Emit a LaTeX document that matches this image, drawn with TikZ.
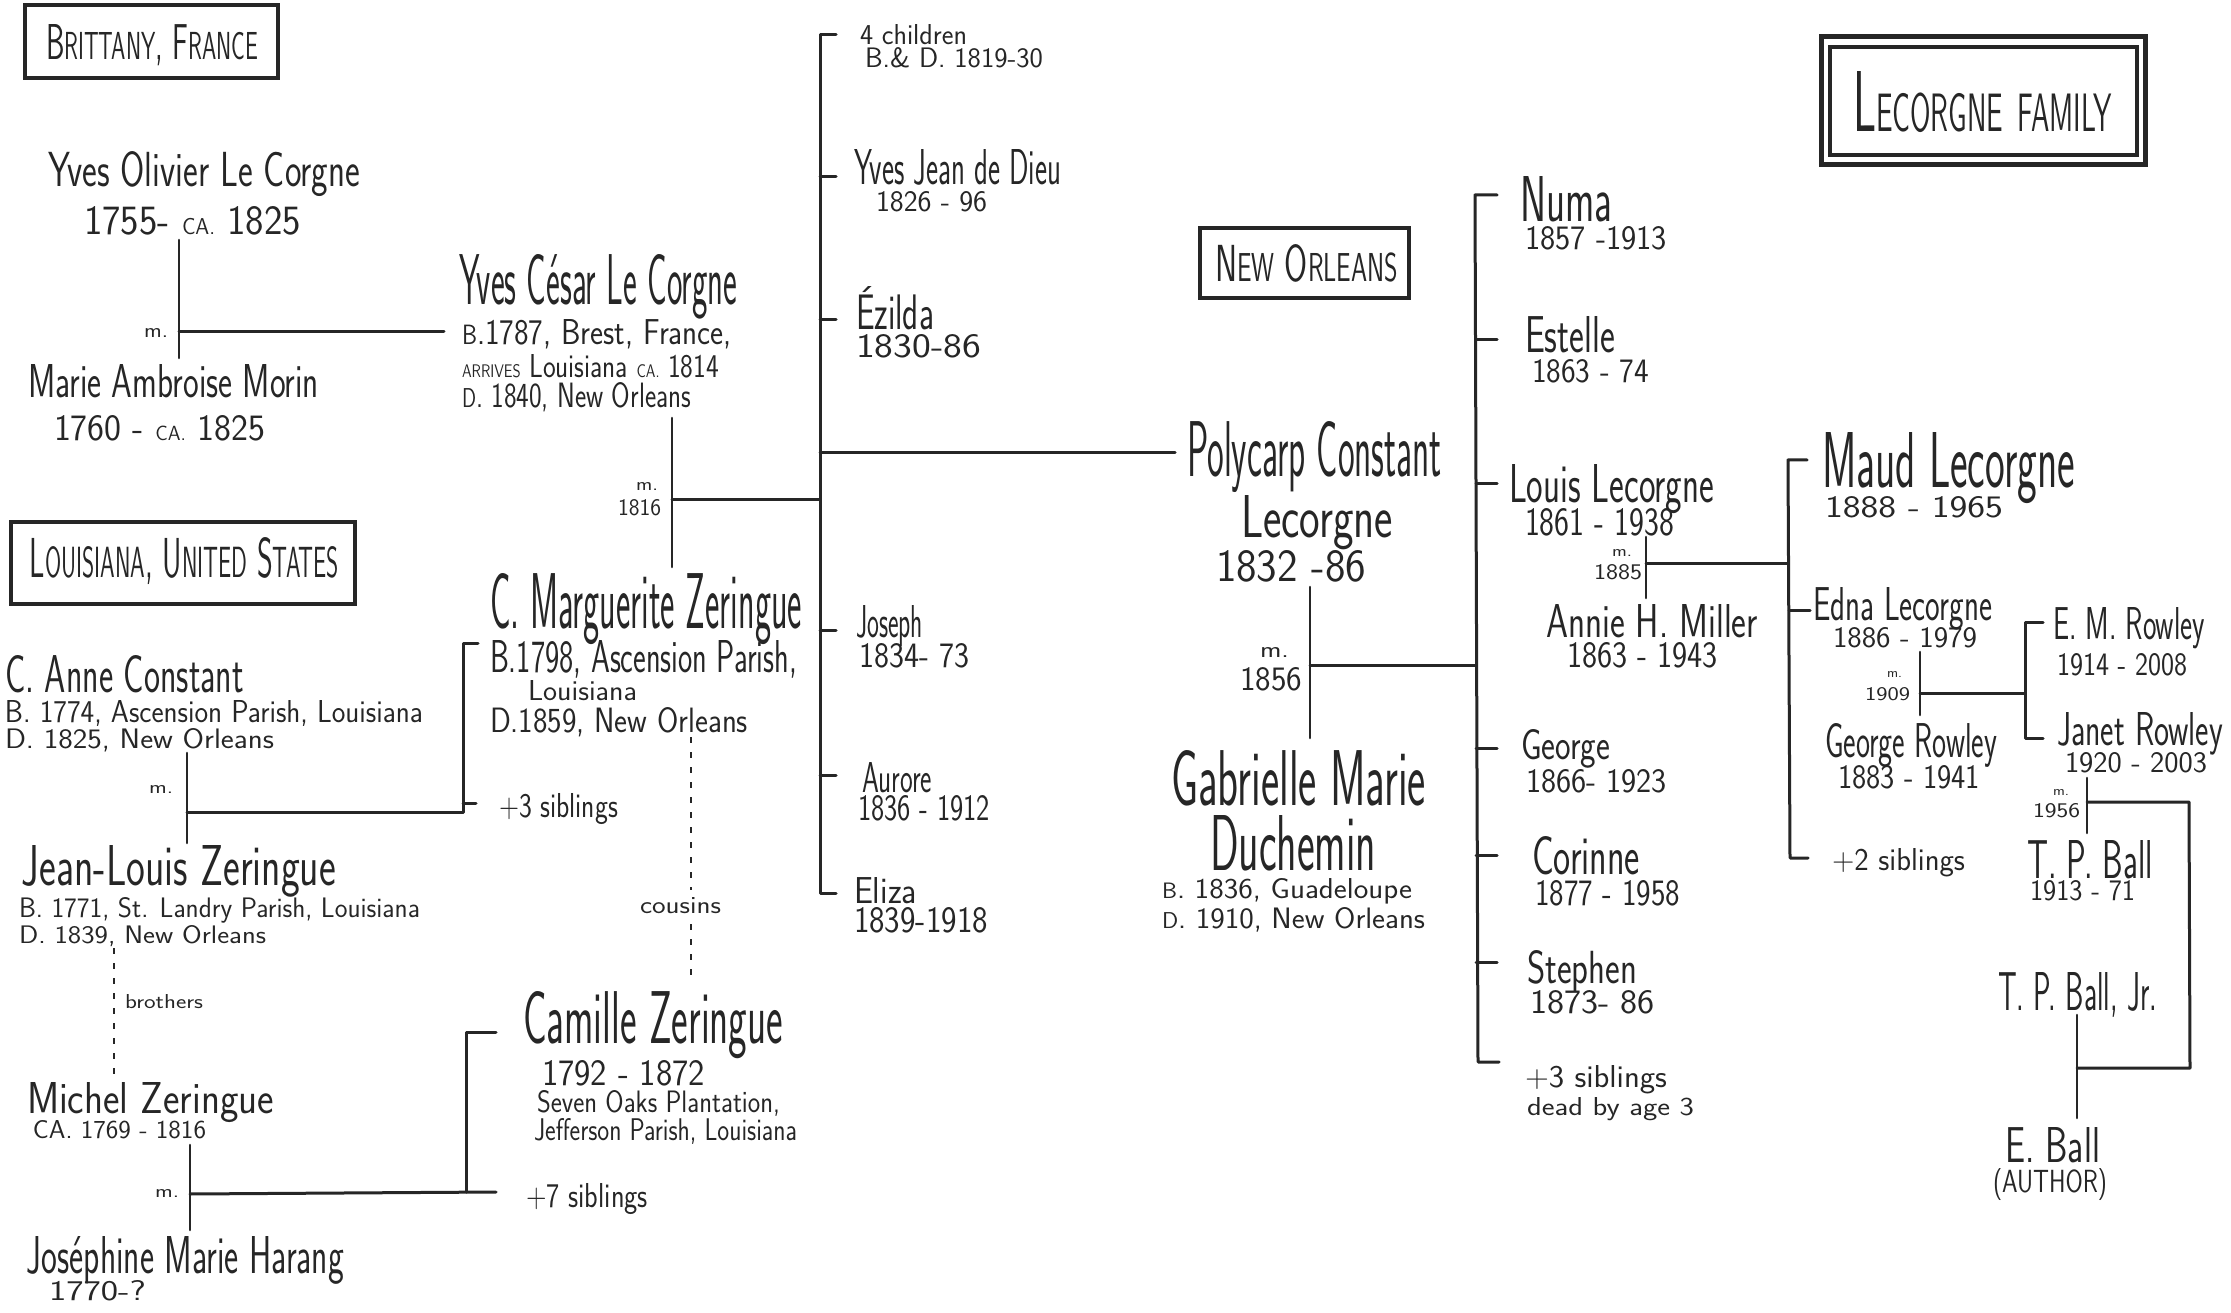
\documentclass[tikz,border=0pt]{standalone}
\usepackage{graphicx}
\definecolor{ink}{RGB}{38,38,38}
\tikzset{
  txt/.style={anchor=base west, inner sep=0pt, outer sep=0pt, text=ink, font=\sffamily},
  ln/.style={draw=ink, line width=3pt, line cap=round, line join=round},
  mln/.style={draw=ink, line width=2.6pt, line cap=round},
  dsh/.style={draw=ink, line width=2pt, dash pattern=on 6pt off 9pt},
  frame/.style={draw=ink, line width=3.5pt},
}
\newcommand\tx[5]{\node[txt] (#1) at (#2) {\resizebox{#3pt}{#4pt}{\fontsize{20}{24}\selectfont #5}};}
\newcommand\scA[1]{{\fontsize{15.5}{18}\selectfont #1}}
\newcommand\scB[1]{{\fontsize{11}{13}\selectfont #1}}
\newcommand\scC[1]{{\fontsize{12.5}{14}\selectfont #1}}
\begin{document}
\begin{tikzpicture}[x=1pt,y=-1pt]
\fill[white] (0,0) rectangle (2231,1313);
\useasboundingbox (0,0) rectangle (2231,1313);

% ---------- frames ----------
\draw[frame] (25,5) rectangle (278,78);
\draw[frame] (11,522) rectangle (355,604);
\draw[frame] (1200,228) rectangle (1409,298);
\draw[frame, line width=5pt] (1821,37) rectangle (2145,165);
\draw[frame] (1830,47) rectangle (2137,155);

\tx{brit}{46,60}{212}{35}{B\scA{RITTANY}, F\scA{RANCE}}
\tx{louis}{30,577}{309}{40}{L\scA{OUISIANA}, U\scA{NITED} S\scA{TATES}}
\tx{newo}{1215,282}{183}{37}{N\scA{EW} O\scA{RLEANS}}
\tx{title}{1853,132}{259}{60}{L\scC{ECORGNE} \scC{FAMILY}}

% ---------- Brittany ----------
\tx{yo}{48,187}{312}{35}{Yves Olivier Le Corgne}
\tx{yod}{84,235}{217}{28}{1755- \scB{CA.} 1825}
\tx{m1}{144,338}{24}{9}{m.}
\tx{mam}{28,398}{291}{33}{Marie Ambroise Morin}
\tx{mamd}{54,441}{211}{25}{1760 - \scB{CA.} 1825}

\tx{yc}{459,305}{278}{50}{Yves César Le Corgne}
\tx{yc1}{462,345}{270}{25}{\scA{B}.1787, Brest, France,}
\tx{yc2}{462,378}{257}{23}{\scB{ARRIVES} Louisiana \scB{CA.} 1814}
\tx{yc3}{462,408}{229}{25}{\scA{D}. 1840, New Orleans}
\tx{m2}{636,490}{22}{8}{m.}
\tx{m2d}{618,515}{43}{16}{1816}

% ---------- children of Yves Cesar ----------
\tx{ch4}{860,45}{107}{20}{4 children}
\tx{ch4d}{865,68}{178}{20}{B.\& D. 1819-30}
\tx{yjd}{854,185}{207}{35}{Yves Jean de Dieu}
\tx{yjdd}{876,212}{111}{20}{1826 - 96}
\tx{ez}{856,330}{78}{43}{Ézilda}
\tx{ezd}{856,358}{125}{23}{1830-86}
\tx{jo}{856,637}{67}{32}{Joseph}
\tx{jod}{859,667}{110}{24}{1834- 73}
\tx{au}{862,792}{70}{30}{Aurore}
\tx{aud}{858,820}{132}{25}{1836 - 1912}
\tx{el}{854,903}{63}{26}{Eliza}
\tx{eld}{854,932}{134}{25}{1839-1918}

% ---------- Polycarp ----------
\tx{pc}{1187,476}{255}{55}{Polycarp Constant}
\tx{pc2}{1241,537}{152}{42}{Lecorgne}
\tx{pcd}{1216,581}{150}{31}{1832 -86}
\tx{m3}{1260,657}{29}{10}{m.}
\tx{m3d}{1240,690}{62}{23}{1856}
\tx{gm}{1171,805}{255}{55}{Gabrielle Marie}
\tx{gm2}{1210,870}{166}{55}{Duchemin}
\tx{gm3}{1162,898}{250}{20}{\scA{B}. 1836, Guadeloupe}
\tx{gm4}{1162,928}{263}{21}{\scA{D}. 1910, New Orleans}

% ---------- children of Polycarp ----------
\tx{nu}{1520,222}{92}{45}{Numa}
\tx{nud}{1525,250}{142}{23}{1857 -1913}
\tx{es}{1525,353}{90}{36}{Estelle}
\tx{esd}{1532,383}{117}{23}{1863 - 74}
\tx{ll}{1509,503}{205}{38}{Louis Lecorgne}
\tx{lld}{1525,535}{149}{27}{1861 - 1938}
\tx{m4}{1612,556}{20}{7}{m.}
\tx{m4d}{1594,579}{48}{15}{1885}
\tx{am}{1546,637}{212}{33}{Annie H. Miller}
\tx{amd}{1567,667}{151}{25}{1863 - 1943}
\tx{ge}{1521,759}{89}{30}{George}
\tx{ged}{1526,792}{141}{23}{1866- 1923}
\tx{co}{1532,874}{108}{38}{Corinne}
\tx{cod}{1535,905}{145}{25}{1877 - 1958}
\tx{st}{1527,983}{110}{33}{Stephen}
\tx{std}{1530,1013}{125}{23}{1873- 86}
\tx{sb}{1525,1087}{142}{22}{+3 siblings}
\tx{sb2}{1527,1115}{167}{18}{dead by age 3}

% ---------- children of Louis ----------
\tx{ma}{1822,488}{253}{55}{Maud Lecorgne}
\tx{mad}{1825,518}{178}{21}{1888 - 1965}
\tx{ed}{1813,620}{179}{33}{Edna Lecorgne}
\tx{edd}{1833,647}{144}{20}{1886 - 1979}
\tx{m5}{1887,677}{15}{6}{m.}
\tx{m5d}{1865,700}{45}{13}{1909}
\tx{gr}{1825,757}{172}{34}{George Rowley}
\tx{grd}{1838,788}{142}{23}{1883 - 1941}
\tx{s2}{1832,870}{133}{22}{+2 siblings}
\tx{em}{2053,639}{152}{32}{E. M. Rowley}
\tx{emd}{2057,675}{130}{22}{1914 - 2008}
\tx{jr}{2057,745}{166}{33}{Janet Rowley}
\tx{jrd}{2065,772}{142}{20}{1920 - 2003}
\tx{m6}{2053,795}{16}{6}{m.}
\tx{m6d}{2033,817}{47}{14}{1956}
\tx{tp}{2027,878}{126}{38}{T. P. Ball}
\tx{tpd}{2030,900}{105}{20}{1913 - 71}
\tx{tpj}{1998,1010}{159}{38}{T. P. Ball, Jr.}
\tx{eb}{2005,1162}{95}{35}{E. Ball}
\tx{eba}{1993,1192}{114}{24}{(AUTHOR)}

% ---------- Louisiana ----------
\tx{ac}{5,692}{239}{37}{C. Anne Constant}
\tx{ac1}{5,722}{418}{22}{B. 1774, Ascension Parish, Louisiana}
\tx{ac2}{5,748}{269}{20}{D. 1825, New Orleans}
\tx{m8}{149,793}{24}{8}{m.}
\tx{mz}{490,628}{312}{55}{C. Marguerite Zeringue}
\tx{mz1}{490,672}{307}{32}{B.1798, Ascension Parish,}
\tx{mz2}{528,700}{109}{20}{Louisiana}
\tx{mz3}{490,732}{258}{25}{D.1859, New Orleans}
\tx{s3}{499,817}{119}{24}{+3 siblings}
\tx{jl}{22,885}{314}{40}{Jean-Louis Zeringue}
\tx{jl1}{19,917}{401}{20}{B. 1771, St. Landry Parish, Louisiana}
\tx{jl2}{19,943}{247}{18}{D. 1839, New Orleans}
\tx{cou}{640,913}{81}{16}{cousins}
\tx{bro}{125,1008}{78}{14}{brothers}
\tx{mi}{27,1113}{247}{31}{Michel Zeringue}
\tx{mid}{33,1138}{173}{18}{CA. 1769 - 1816}
\tx{m9}{155,1197}{24}{8}{m.}
\tx{cz}{523,1043}{260}{52}{Camille Zeringue}
\tx{czd}{542,1085}{163}{25}{1792 - 1872}
\tx{cz1}{537,1112}{243}{22}{Seven Oaks Plantation,}
\tx{cz2}{534,1140}{263}{22}{Jefferson Parish, Louisiana}
\tx{s7}{526,1207}{122}{24}{+7 siblings}
\tx{jh}{27,1273}{317}{37}{Joséphine Marie Harang}
\tx{jhd}{49,1300}{97}{20}{1770-?}

% ---------- connectors ----------
% Yves Olivier + Marie
\coordinate (m1t) at (179,240); \coordinate (m1b) at (179,358);
\coordinate (m1j) at (179,332); \coordinate (m1e) at (444,332);
\draw[mln] (m1t) -- (m1b);
\draw[ln] (m1j) -- (m1e);
% Yves Cesar + Marguerite
\coordinate (m2t) at (672,418); \coordinate (m2b) at (672,567);
\coordinate (m2j) at (672,499); \coordinate (c1j) at (820,499);
\draw[mln] (m2t) -- (m2b);
\draw[ln] (m2j) -- (c1j);
% children bar 1
\coordinate (c1t) at (820,35); \coordinate (c1tt) at (836,35);
\coordinate (c1b) at (820,893); \coordinate (c1bt) at (836,893);
\draw[ln] (c1tt) -- (c1t) -- (c1b) -- (c1bt);
\foreach \n/\y in {a/177,b/320,c/630,d/775}{
  \coordinate (k\n1) at (820,\y); \coordinate (k\n2) at (836,\y);
  \draw[ln] (k\n1) -- (k\n2);}
\coordinate (pcA) at (820,453); \coordinate (pcB) at (1175,453);
\draw[ln] (pcA) -- (pcB);
% Polycarp + Gabrielle
\coordinate (m3t) at (1310,587); \coordinate (m3b) at (1310,738);
\coordinate (m3j) at (1310,665); \coordinate (c2j) at (1475,665);
\draw[mln] (m3t) -- (m3b);
\draw[ln] (m3j) -- (c2j);
% children bar 2
\coordinate (c2t) at (1475,195); \coordinate (c2tt) at (1497,195);
\coordinate (c2b) at (1478,1062); \coordinate (c2bt) at (1499,1062);
\draw[ln] (c2tt) -- (c2t) -- (c2b) -- (c2bt);
\foreach \n/\y in {a/340,b/483,c/748,d/855,e/962}{
  \coordinate (q\n1) at (1476,\y); \coordinate (q\n2) at (1497,\y);
  \draw[ln] (q\n1) -- (q\n2);}
% Louis + Annie
\coordinate (m4t) at (1646,537); \coordinate (m4b) at (1646,598);
\coordinate (m4j) at (1646,563); \coordinate (c3j) at (1788,563);
\draw[mln] (m4t) -- (m4b);
\draw[ln] (m4j) -- (c3j);
% children bar 3
\coordinate (c3t) at (1788,460); \coordinate (c3tt) at (1807,460);
\coordinate (c3b) at (1790,858); \coordinate (c3bt) at (1808,858);
\draw[ln] (c3tt) -- (c3t) -- (c3b) -- (c3bt);
\coordinate (edA) at (1789,610); \coordinate (edB) at (1810,610);
\draw[ln] (edA) -- (edB);
% Edna + George
\coordinate (m5t) at (1920,652); \coordinate (m5b) at (1920,715);
\coordinate (m5j) at (1920,693); \coordinate (c4j) at (2025,693);
\draw[mln] (m5t) -- (m5b);
\draw[ln] (m5j) -- (c4j);
\coordinate (c4t) at (2025,622); \coordinate (c4tt) at (2043,622);
\coordinate (c4b) at (2025,738); \coordinate (c4bt) at (2043,738);
\draw[ln] (c4tt) -- (c4t) -- (c4b) -- (c4bt);
% Janet + T.P. Ball
\coordinate (m6t) at (2087,778); \coordinate (m6b) at (2087,833);
\coordinate (m6j) at (2087,802); \coordinate (r1) at (2189,802);
\coordinate (r2) at (2190,1068); \coordinate (r3) at (2077,1068);
\draw[mln] (m6t) -- (m6b);
\draw[ln] (m6j) -- (r1) -- (r2) -- (r3);
\coordinate (m7t) at (2077,1015); \coordinate (m7b) at (2077,1118);
\draw[mln] (m7t) -- (m7b);
% Anne + Jean-Louis
\coordinate (m8t) at (187,753); \coordinate (m8b) at (187,843);
\coordinate (m8j) at (187,812); \coordinate (c5j) at (463,812);
\draw[mln] (m8t) -- (m8b);
\coordinate (c5t) at (463,643); \coordinate (c5tt) at (478,643);
\draw[ln] (m8j) -- (c5j) -- (c5t) -- (c5tt);
\coordinate (s3A) at (463,803); \coordinate (s3B) at (476,803);
\draw[ln] (s3A) -- (s3B);
% Michel + Josephine
\coordinate (m9t) at (190,1145); \coordinate (m9b) at (190,1230);
\coordinate (m9j) at (190,1194); \coordinate (c6j) at (466,1192);
\coordinate (c6e) at (496,1192);
\coordinate (c6t) at (466,1032); \coordinate (c6tt) at (496,1032);
\draw[mln] (m9t) -- (m9b);
\draw[ln] (m9j) -- (c6e);
\draw[ln] (c6j) -- (c6t) -- (c6tt);
% dashed relations
\coordinate (cu1) at (691,737); \coordinate (cu2) at (691,890);
\coordinate (cu3) at (691,924); \coordinate (cu4) at (691,982);
\draw[dsh] (cu1) -- (cu2);
\draw[dsh] (cu3) -- (cu4);
\coordinate (br1) at (114,948); \coordinate (br2) at (114,1078);
\draw[dsh] (br1) -- (br2);
\end{tikzpicture}
\end{document}
